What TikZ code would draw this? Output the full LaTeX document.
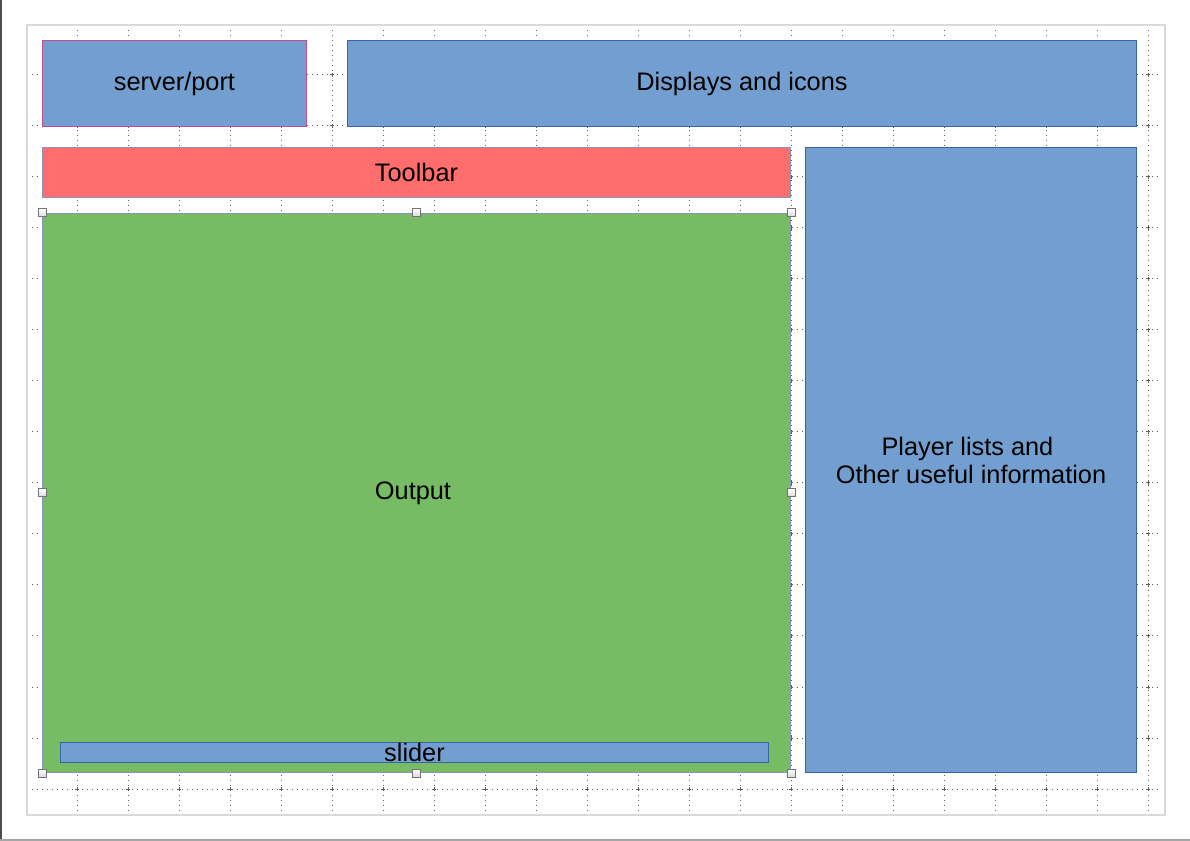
\documentclass[tikz,border=0pt]{standalone}
\usepackage{fontspec}
\setmainfont{Liberation Sans}
\usetikzlibrary{positioning}

\definecolor{boxblue}{HTML}{729FCF}
\definecolor{edgeblue}{HTML}{3465A4}
\definecolor{boxred}{HTML}{FF6D6D}
\definecolor{boxgreen}{HTML}{77BC65}
\definecolor{edgepink}{HTML}{BF4F8F}
\definecolor{edgegrey}{HTML}{8596BC}

\tikzset{
  panel/.style={draw=edgeblue, fill=boxblue, line width=0.75pt, anchor=north west,
    inner sep=0pt, align=center, font=\fontsize{19}{21}\selectfont},
  handle/.style={draw=gray!90!black, top color=white, bottom color=gray!30,
    minimum size=6pt, inner sep=0pt, line width=0.75pt},
  gridline/.style={gray!75!black, line width=0.75pt, dash pattern=on 0.75pt off 3pt}
}

\begin{document}
\begin{tikzpicture}[x=0.75pt, y=-0.75pt]
  \useasboundingbox (0,0) rectangle (1190,841);

  % page and grid
  \draw[gray!30, line width=1.5pt] (27,25) rectangle (1165,815);
  \foreach \gx in {0,...,21}
    \draw[gridline] (77+51*\gx,30) -- (77+51*\gx,813);
  \foreach \gy in {0,...,14}
    \draw[gridline] (32,75+51*\gy) -- (1162,75+51*\gy);
  \foreach \gx in {0,...,21}
    \foreach \gy in {0,...,14}
      \draw[gray!75!black, line width=0.75pt]
        (75+51*\gx,75+51*\gy) -- (79+51*\gx,75+51*\gy)
        (77+51*\gx,73+51*\gy) -- (77+51*\gx,77+51*\gy);
  \draw[gray!60!black, line width=1.5pt] (1,0) -- (1,841);
  \draw[gray!70, line width=1pt] (0,840) -- (1190,840);

  % panels
  \node[panel, draw=edgepink, minimum width=264*0.75pt, minimum height=86*0.75pt]
    (server) at (42,40) {server/port};
  \node[panel, minimum width=789*0.75pt, minimum height=86*0.75pt]
    (displays) at (347,40) {Displays and icons};
  \node[panel, draw=edgegrey, fill=boxred, minimum width=748*0.75pt, minimum height=50*0.75pt]
    (toolbar) at (42,147) {Toolbar};
  \node[panel, draw=edgegrey, fill=boxgreen, minimum width=748*0.75pt, minimum height=559*0.75pt]
    (output) at (42,213) {Output\ };
  \node[panel, minimum width=331*0.75pt, minimum height=625*0.75pt]
    (players) at (805,147) {Player lists and\hspace*{0.28em}\\Other useful information};
  \node[panel, minimum width=708*0.75pt, minimum height=20*0.75pt]
    (slider) at (60,742) {slider};

  % selection handles
  \foreach \a/\n in {north west/1, north/2, north east/3, west/4, east/5,
                     south west/6, south/7, south east/8}
    \node[handle] (h\n) at (output.\a) {};
\end{tikzpicture}
\end{document}
